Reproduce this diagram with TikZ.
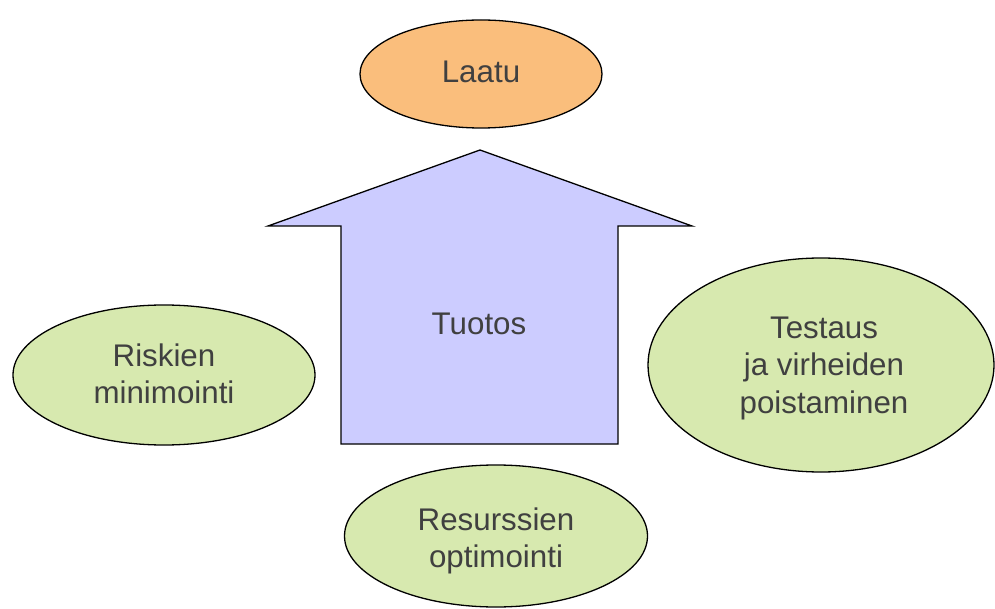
\documentclass[tikz,border=0pt]{standalone}
\usepackage{fontspec}
\setmainfont{Liberation Sans}
\usetikzlibrary{shapes.geometric}
\definecolor{txt}{RGB}{64,64,64}
\definecolor{orangefill}{RGB}{250,190,124}
\definecolor{greenfill}{RGB}{215,233,175}
\definecolor{purplefill}{RGB}{204,204,255}
\begin{document}
\begin{tikzpicture}[x=1pt,y=-1pt,
  oval/.style={ellipse, draw=black, line width=1.3pt, inner sep=0pt},
  lbl/.style={text=txt, font=\fontsize{31.3}{37.5}\selectfont, align=center}]
\useasboundingbox (0,0) rectangle (995,609);
% arrow
\draw[fill=purplefill, draw=black, line width=1.3pt, line join=miter]
  (480,150) -- (692,226) -- (618,226) -- (618,444) -- (341,444) -- (341,226) -- (268,226) -- cycle;
\node[lbl] (tuotos) at (479,324) {Tuotos};
\node[oval, fill=orangefill, minimum width=242pt, minimum height=108pt] (laatu) at (481,74) {};
\node[oval, fill=greenfill, minimum width=302pt, minimum height=140pt] (riskien) at (164,375) {};
\node[oval, fill=greenfill, minimum width=346pt, minimum height=214pt] (testaus) at (821,365) {};
\node[oval, fill=greenfill, minimum width=303pt, minimum height=142pt] (resurssien) at (496,536) {};
\node[lbl] (laatut) at (481,72) {Laatu};
\node[lbl] (riskient) at (164,374) {Riskien\\minimointi};
\node[lbl] (testaust) at (824,368) {Testaus\\ja virheiden\\poistaminen};
\node[lbl] (resurssient) at (496,541) {Resurssien\\optimointi};
\end{tikzpicture}
\end{document}
